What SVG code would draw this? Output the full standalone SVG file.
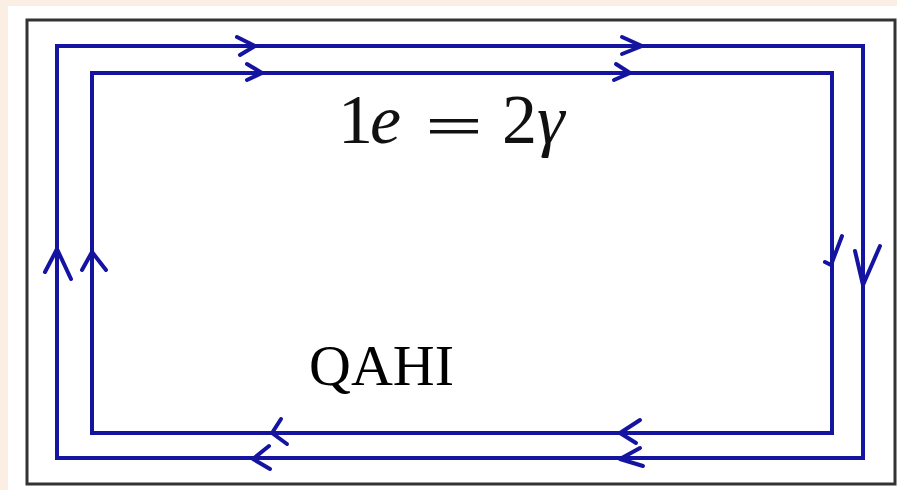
<svg xmlns="http://www.w3.org/2000/svg" width="897" height="490" viewBox="0 0 897 490">
<style>
.loop{fill:none;stroke:#1414a0;stroke-width:4;stroke-linejoin:miter}
.arr{fill:none;stroke:#1414a0;stroke-width:4;stroke-linecap:round;stroke-linejoin:round}
.frame{fill:none;stroke:#333;stroke-width:3}
.math{font-family:"Liberation Serif","DejaVu Serif",serif;font-size:70px;fill:#111}
.lbl{font-family:"Liberation Serif","DejaVu Serif",serif;font-size:58px;fill:#000}
</style>
<rect x="0" y="0" width="897" height="490" fill="#fbefe4"/>
<rect x="8" y="6" width="889" height="484" fill="#fff"/>
<rect id="frame" class="frame" x="27" y="20" width="868" height="464"/>
<g id="connectors">
<rect id="outer-loop" class="loop" x="57" y="46" width="806" height="412"/>
<rect id="inner-loop" class="loop" x="92" y="73" width="740" height="360"/>
<g id="arrows">
<path class="arr" d="M237,37 L255,46 L240,55"/>
<path class="arr" d="M247,64 L262,73 L247,80"/>
<path class="arr" d="M622,37 L642,46 L622,54"/>
<path class="arr" d="M616,64 L630,73 L614,80"/>
<path class="arr" d="M45,272 L57,249 L71,279"/>
<path class="arr" d="M82,270 L92,252 L106,270"/>
<path class="arr" d="M825,262 L831,265 L842,236"/>
<path class="arr" d="M855,251 L863,285 L880,246"/>
<path class="arr" d="M281,419 L272,433 L287,444"/>
<path class="arr" d="M269,446 L253,459 L270,469"/>
<path class="arr" d="M640,420 L620,433 L636,443"/>
<path class="arr" d="M640,448 L620,459 L643,466"/>
</g>
</g>
<g id="formula">
<text class="math" y="143"><tspan x="338">1</tspan><tspan x="370" font-style="italic">e</tspan></text>
<rect x="430" y="119" width="48" height="3.5" fill="#111"/>
<rect x="430" y="130" width="48" height="3.5" fill="#111"/>
<text class="math" y="143"><tspan x="502">2</tspan><tspan x="537" font-style="italic">γ</tspan></text>
</g>
<g id="label">
<text class="lbl" x="309" y="385">QAHI</text>
</g>
</svg>
